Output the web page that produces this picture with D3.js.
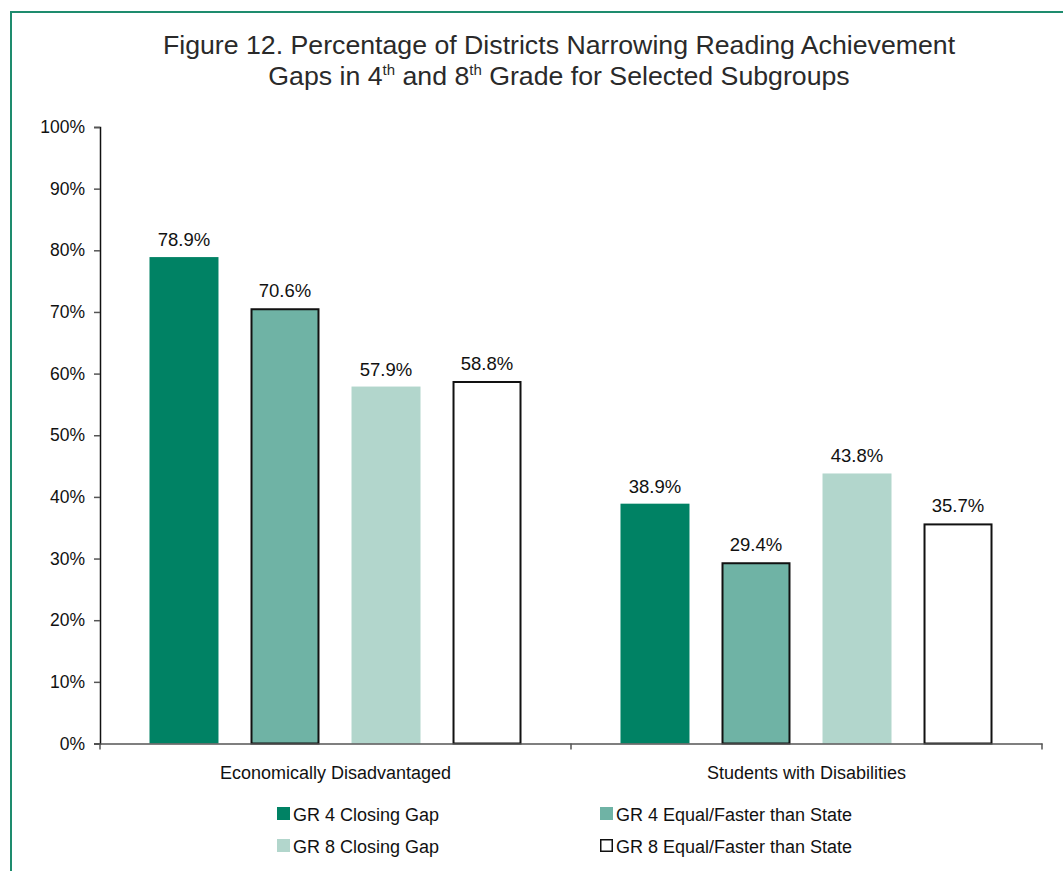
<!DOCTYPE html>
<html>
<head>
<meta charset="utf-8">
<script src="https://cdn.jsdelivr.net/npm/d3@7"></script>
<style>
  body { margin: 0; background: #fff; }
  svg { display: block; font-family: 'Liberation Sans', Arial, sans-serif; }
</style>
</head>
<body>
<svg width="1063" height="871"></svg>
<script>
var groups = ['Economically Disadvantaged', 'Students with Disabilities'];
var series = ['GR 4 Closing Gap', 'GR 4 Equal/Faster than State', 'GR 8 Closing Gap', 'GR 8 Equal/Faster than State'];
var gr4Closing = [78.9, 38.9];
var gr4Equal = [70.6, 29.4];
var gr8Closing = [57.9, 43.8];
var gr8Equal = [58.8, 35.7];
var yTicks = [0, 10, 20, 30, 40, 50, 60, 70, 80, 90, 100];

var colors = ['#008264', '#6fb3a5', '#b2d6cc', '#ffffff'];
var outlined = [false, true, false, true];
var legendOutlined = [false, false, false, true];
var values = [gr4Closing, gr4Equal, gr8Closing, gr8Equal];

var margin = {top: 127, left: 100, right: 21, bottom: 127.5};
var width = 1063, height = 871;

var svg = d3.select('svg');

// frame
svg.append('path')
  .attr('d', 'M11,871 V12 H1063')
  .attr('fill', 'none')
  .attr('stroke', '#1e8c6e')
  .attr('stroke-width', 2);

// title
var title = svg.append('text')
  .attr('text-anchor', 'middle')
  .attr('fill', '#2a2a2a')
  .style('font-size', '26.7px');
title.append('tspan').attr('x', 559).attr('y', 54)
  .text('Figure 12. Percentage of Districts Narrowing Reading Achievement');
var t2 = title.append('tspan').attr('x', 559).attr('y', 85);
t2.append('tspan').text('Gaps in 4');
t2.append('tspan').attr('dy', -10).style('font-size', '15px').text('th');
t2.append('tspan').attr('dy', 10).text(' and 8');
t2.append('tspan').attr('dy', -10).style('font-size', '15px').text('th');
t2.append('tspan').attr('dy', 10).text(' Grade for Selected Subgroups');

var yScale = d3.scaleLinear()
  .domain([0, 100])
  .range([height - margin.bottom, margin.top]);

var x0 = d3.scaleBand()
  .domain(groups)
  .range([margin.left, width - margin.right]);

var x1 = d3.scaleBand()
  .domain(series)
  .range([0, x0.bandwidth()])
  .paddingInner(0.317)
  .paddingOuter(0.49);

// bars
groups.forEach((g, gi) => {
  series.forEach((s, si) => {
    var v = values[si][gi];
    var x = x0(g) + x1(s);
    var sw = outlined[si] ? 2 : 0;
    svg.append('rect')
      .attr('x', x + sw / 2)
      .attr('y', yScale(v) + sw / 2)
      .attr('width', x1.bandwidth() - sw)
      .attr('height', yScale(0) - yScale(v) - sw / 2)
      .attr('fill', colors[si])
      .attr('stroke', outlined[si] ? '#111' : 'none')
      .attr('stroke-width', sw);
    svg.append('text')
      .attr('x', x + x1.bandwidth() / 2)
      .attr('y', yScale(v) - 11)
      .attr('text-anchor', 'middle')
      .attr('fill', '#111')
      .style('font-size', '18.5px')
      .text(v.toFixed(1) + '%');
  });
});

// y axis
var yAxis = svg.append('g')
  .attr('transform', 'translate(' + margin.left + ',0)')
  .call(d3.axisLeft(yScale).tickValues(yTicks).tickSize(6).tickPadding(9).tickFormat(d => d + '%'));
yAxis.select('.domain').attr('stroke', '#111').attr('stroke-width', 1.5);
yAxis.selectAll('.tick line').attr('stroke', '#555').attr('stroke-width', 1.5);
yAxis.selectAll('text').style('font-size', '17.5px').attr('fill', '#111').attr('font-family', null);

// x axis
var xAxis = svg.append('g')
  .attr('transform', 'translate(0,' + yScale(0) + ')')
  .call(d3.axisBottom(x0).tickSize(0).tickPadding(23));
xAxis.select('.domain').attr('stroke', '#555').attr('stroke-width', 1.5);
xAxis.selectAll('text').style('font-size', '18px').attr('fill', '#111').attr('font-family', null);

// x tick marks at group boundaries
var bounds = groups.map(g => x0(g)).concat([x0.range()[1]]);
xAxis.selectAll('.bound')
  .data(bounds)
  .enter()
  .append('line')
  .attr('x1', d => d).attr('x2', d => d)
  .attr('y1', 0).attr('y2', 6)
  .attr('stroke', '#555')
  .attr('stroke-width', 1.5);

// legend
var legendX = [277, 600];
var legendY = [815, 847];
series.forEach((s, i) => {
  var lx = legendX[i % 2], ly = legendY[Math.floor(i / 2)];
  var sw = legendOutlined[i] ? 1.5 : 0;
  svg.append('rect')
    .attr('x', lx + sw / 2)
    .attr('y', ly - 8 + sw / 2)
    .attr('width', 13 - sw)
    .attr('height', 13 - sw)
    .attr('fill', colors[i])
    .attr('stroke', legendOutlined[i] ? '#111' : 'none')
    .attr('stroke-width', sw);
  svg.append('text')
    .attr('x', lx + 16)
    .attr('y', ly + 6)
    .attr('fill', '#111')
    .style('font-size', '18px')
    .text(s);
});
</script>
</body>
</html>
